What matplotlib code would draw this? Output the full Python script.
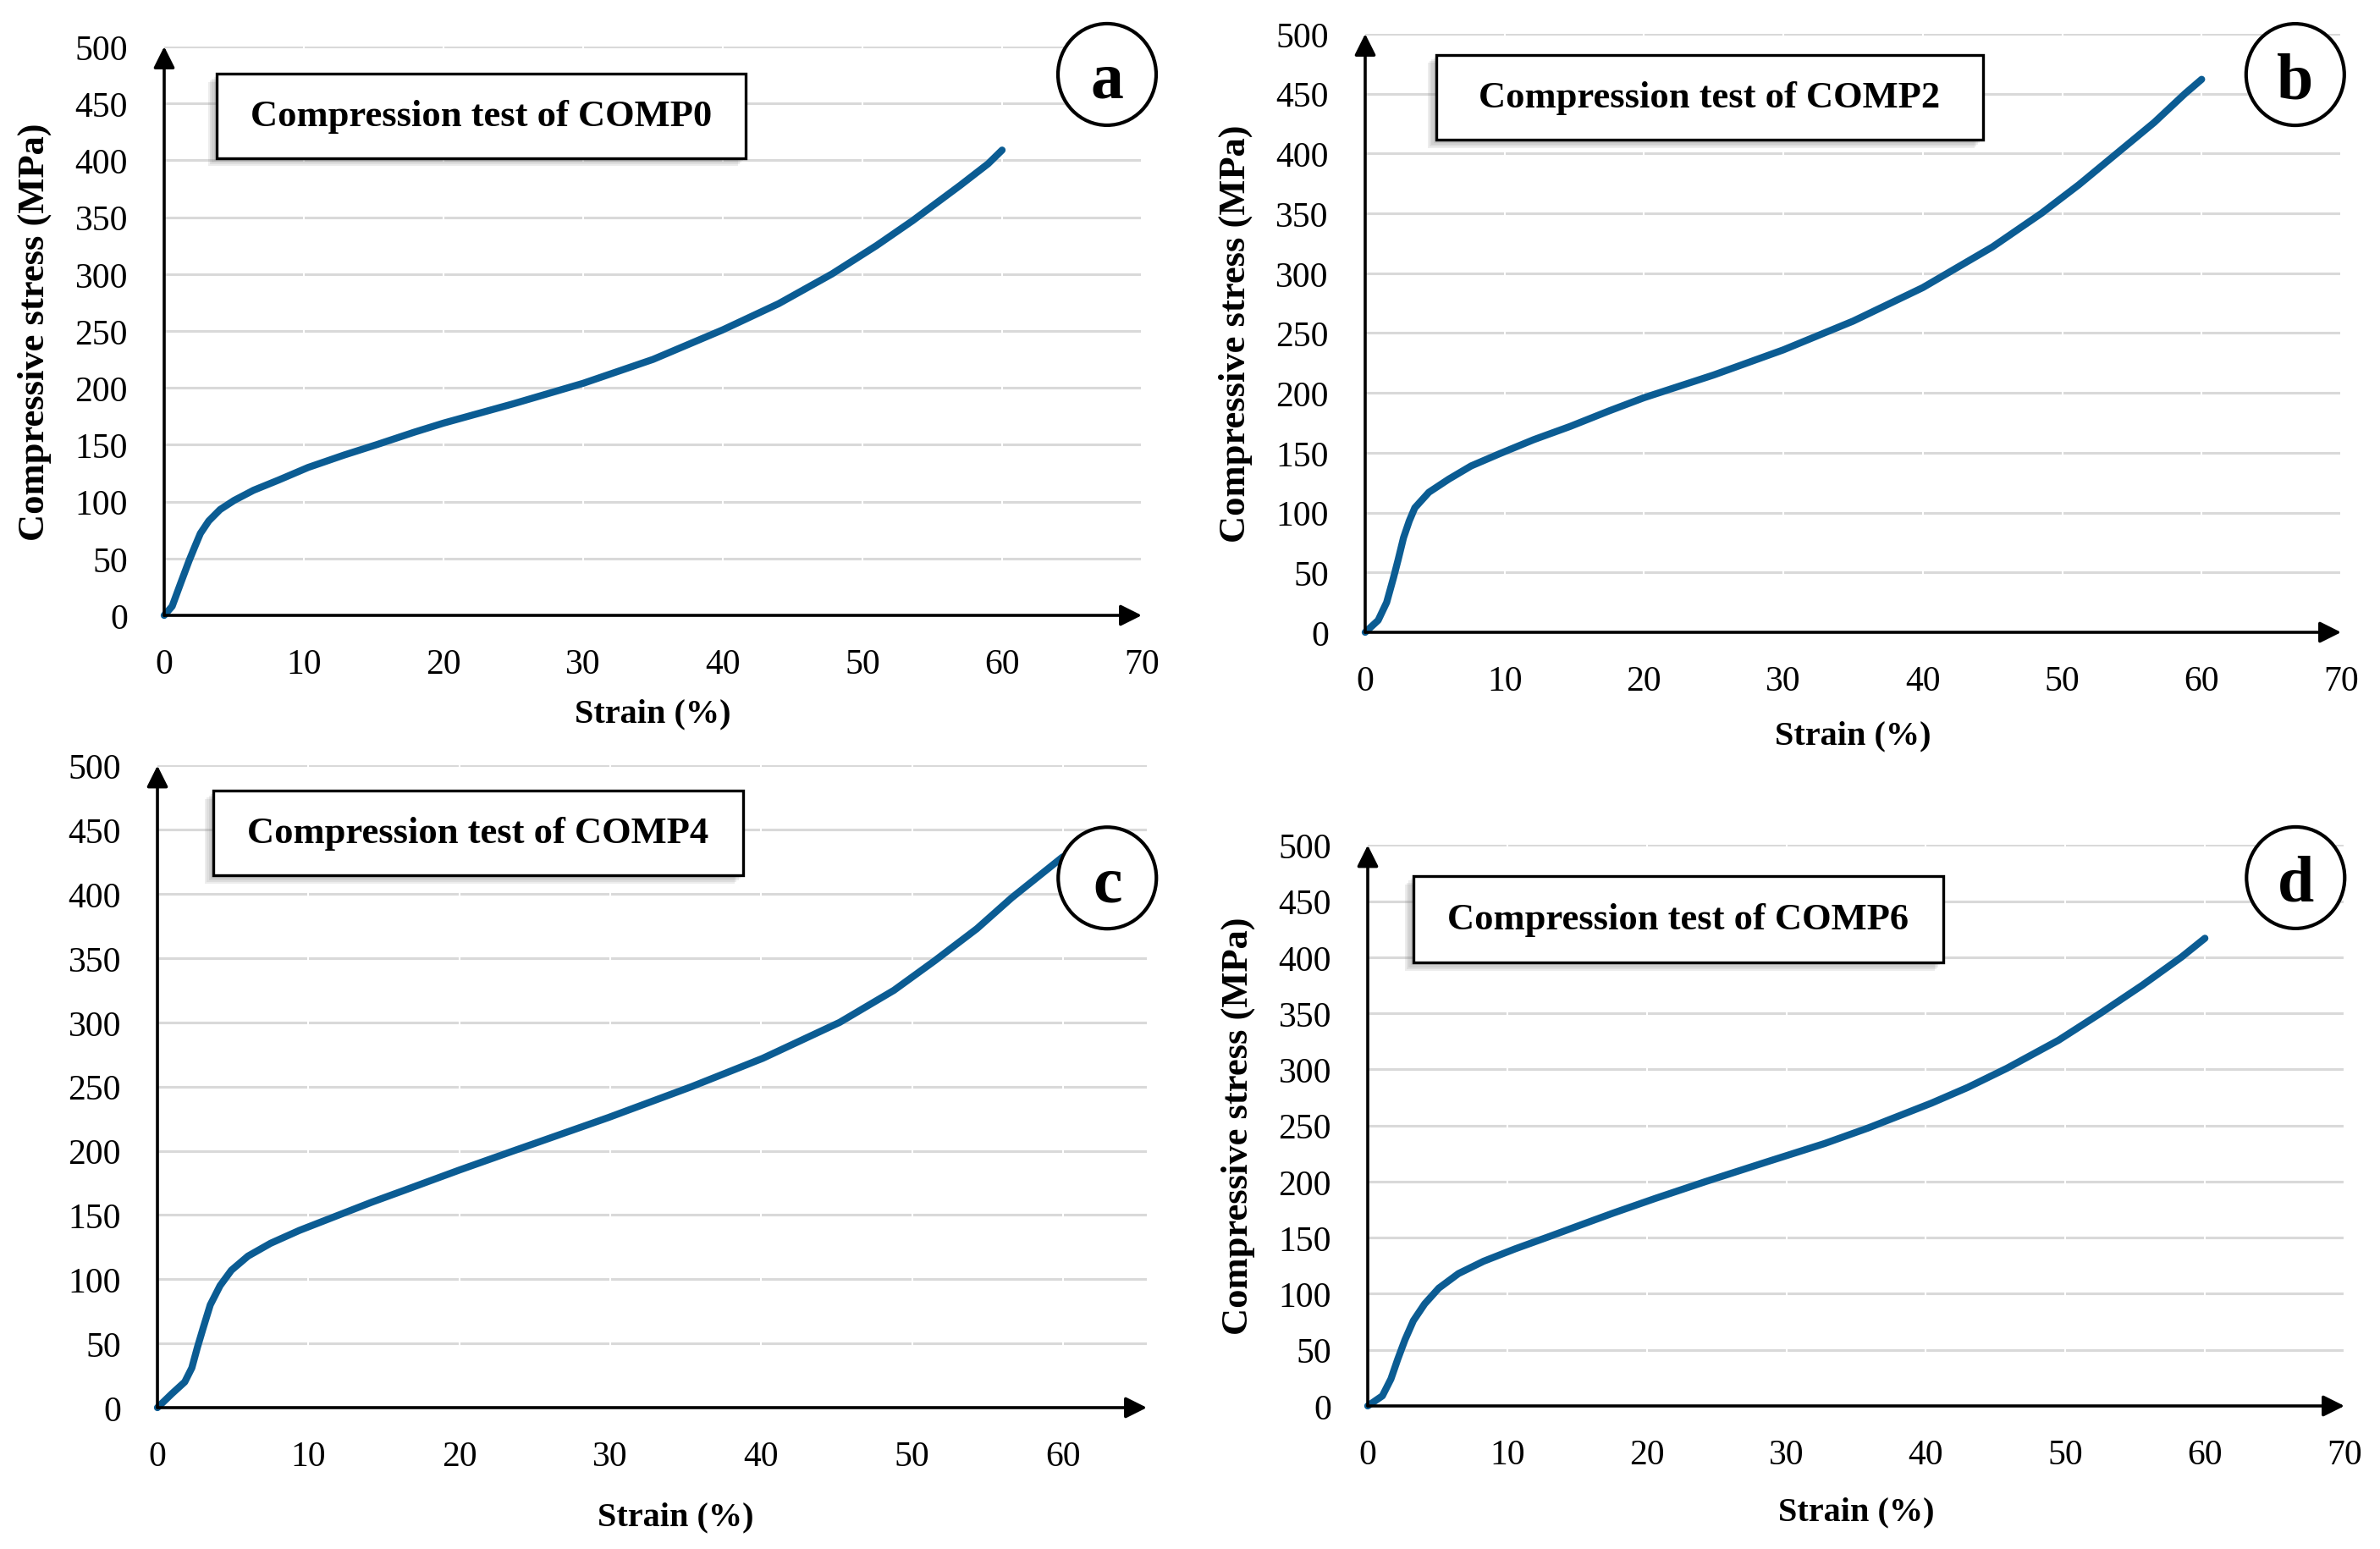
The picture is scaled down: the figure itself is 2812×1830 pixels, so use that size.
import numpy as np
import matplotlib.pyplot as plt
from matplotlib.patches import Rectangle, Ellipse
import matplotlib.patheffects as pe

plt.rcParams['font.family'] = ['Liberation Serif', 'DejaVu Serif']

W, H = 2812, 1831
line_color = '#0B5C93'

# values (strain %, stress MPa)
strain_a = [0, 0.57, 1.17, 1.78, 2.18, 2.59, 3.19, 4.0, 5.0, 6.4, 8.2, 10.3, 12.9, 15.2, 17.9,
            20, 25, 30, 35, 40, 44, 47.8, 51, 53.6, 57, 59, 60]
stress_a = [0, 8, 28, 48, 60, 72, 83, 93, 101, 110, 119, 130, 141, 150, 161,
            169, 186, 204, 225, 251, 274, 300, 325, 347, 378, 397, 409]

strain_b = [0, 0.93, 1.54, 2.04, 2.35, 2.75, 3.16, 3.56, 4.57, 6.0, 7.6, 9.6, 12.1, 14.7, 17.5,
            20, 25, 30, 35, 40, 45, 48.5, 51.2, 53.9, 56.6, 58.8, 60]
stress_b = [0, 10, 25, 46, 60, 79, 93, 104, 117, 128, 139, 149, 161, 172, 185,
            196, 215, 236, 260, 288, 322, 350, 374, 400, 426, 450, 462]

strain_c = [0, 0.97, 1.81, 2.28, 2.65, 3.03, 3.5, 4.15, 4.9, 6.0, 7.5, 9.4, 11.8, 14.2, 16.3,
            20, 23.6, 29.9, 35.4, 40.1, 45.2, 48.8, 51.5, 54.3, 56.6, 60]
stress_c = [0, 11, 20, 31, 47, 62, 80, 95, 107, 118, 128, 138, 149, 160, 169,
            185, 200, 226, 250, 272, 300, 325, 348, 373, 397, 429]

strain_d = [0, 1.05, 1.66, 2.16, 2.67, 3.27, 4.08, 5.09, 6.5, 8.3, 10.55, 13, 15.4, 17.6,
            20.6, 24.2, 28.7, 32.75, 35.9, 40.4, 43, 45.8, 49.5, 52.5, 55.5, 58.3, 60]
stress_d = [0, 9, 24, 42, 59, 76, 91, 105, 118, 129, 140, 151, 162, 172,
            185, 200, 218, 234, 248, 270, 284, 301, 326, 350, 375, 400, 417]

y_ticks = list(range(0, 501, 50))

fig = plt.figure(figsize=(W / 100, H / 100), dpi=100)

panels = [
    dict(rect=[0.06899, 0.60240, 0.41074, 0.36701], xmax=70, xt=range(0, 71, 10),
         x=strain_a, y=stress_a, title='Compression test of COMP0', letter='a',
         box=(0.0537, 0.804, 0.595, 0.952), circ=(0.9645, 0.951), ylab=True, xlab=(0.5, -0.173)),
    dict(rect=[0.57361, 0.59148, 0.41003, 0.38613], xmax=70, xt=range(0, 71, 10),
         x=strain_b, y=stress_b, title='Compression test of COMP2', letter='b',
         box=(0.0729, 0.823, 0.633, 0.965), circ=(0.953, 0.932), ylab=True, xlab=(0.5, -0.173)),
    dict(rect=[0.06615, 0.09121, 0.41572, 0.41426], xmax=65.56, xt=range(0, 61, 10),
         x=strain_c, y=stress_c, title='Compression test of COMP4', letter='c',
         box=(0.0565, 0.829, 0.592, 0.961), circ=(0.960, 0.825), ylab=False, xlab=(0.524, -0.170)),
    dict(rect=[0.57468, 0.09230, 0.41038, 0.36183], xmax=70, xt=range(0, 71, 10),
         x=strain_d, y=stress_d, title='Compression test of COMP6', letter='d',
         box=(0.0468, 0.791, 0.589, 0.945), circ=(0.950, 0.942), ylab=True, xlab=(0.5, -0.189)),
]

# soft drop shadow (bottom-left) for the title boxes
shadow = [pe.SimplePatchShadow(offset=(-k, -k), shadow_rgbFace='0.45', alpha=0.12)
          for k in (7, 5.5, 4, 2.5)]

for p in panels:
    ax = fig.add_axes(p['rect'])
    ax.set_xlim(0, p['xmax'])
    ax.set_ylim(0, 500)
    ax.set_xticks(list(p['xt']))
    ax.set_yticks(y_ticks)
    for s in ax.spines.values():
        s.set_visible(False)
    ax.tick_params(length=0, labelsize=30)
    ax.tick_params(axis='x', pad=28)
    ax.tick_params(axis='y', pad=31)

    # grid
    for yv in y_ticks[1:]:
        ax.axhline(yv, color='#D9D9D9', lw=2.2, zorder=1)
    for xv in list(p['xt'])[1:]:
        ax.axvline(xv, color='white', lw=1.5, zorder=1.5)

    ax.plot(p['x'], p['y'], color=line_color, lw=6, solid_capstyle='round',
            solid_joinstyle='round', zorder=3, clip_on=False)

    # axis arrows
    arr = dict(arrowstyle='-|>', color='black', lw=2.6, mutation_scale=38,
               shrinkA=0, shrinkB=0)
    ax.annotate('', xy=(1, 0), xytext=(0, 0), xycoords='axes fraction',
                textcoords='axes fraction', arrowprops=arr, zorder=4)
    ax.annotate('', xy=(0, 1), xytext=(0, 0), xycoords='axes fraction',
                textcoords='axes fraction', arrowprops=arr, zorder=4)

    ax.set_xlabel('Strain (%)', fontsize=29, fontweight='bold')
    ax.xaxis.set_label_coords(*p['xlab'])
    ax.xaxis.label.set_va('center')
    if p['ylab']:
        ax.set_ylabel('Compressive stress (MPa)', fontsize=32, fontweight='bold')
        ax.yaxis.set_label_coords(-0.133, 0.5)
        ax.yaxis.label.set_va('center')

    # title box with shadow
    l, b, r, t = p['box']
    rect = Rectangle((l, b), r - l, t - b, transform=ax.transAxes, fc='white',
                     ec='black', lw=2.4, clip_on=False, zorder=6)
    rect.set_path_effects(shadow + [pe.Normal()])
    ax.add_patch(rect)
    ax.text((l + r) / 2, (b + t) / 2, p['title'], transform=ax.transAxes,
            ha='center', va='center', fontsize=32, fontweight='bold', zorder=7)

    # panel letter in circle
    axw = p['rect'][2] * W
    axh = p['rect'][3] * H
    cx, cy = p['circ']
    circ = Ellipse((cx, cy), 116 / axw, 120 / axh, transform=ax.transAxes,
                   fc='white', ec='black', lw=3, clip_on=False, zorder=6)
    ax.add_patch(circ)
    ax.text(cx, cy, p['letter'], transform=ax.transAxes, ha='center',
            va='center_baseline', fontsize=56, fontweight='bold', zorder=7)

fig.savefig('out.png', dpi=100)
